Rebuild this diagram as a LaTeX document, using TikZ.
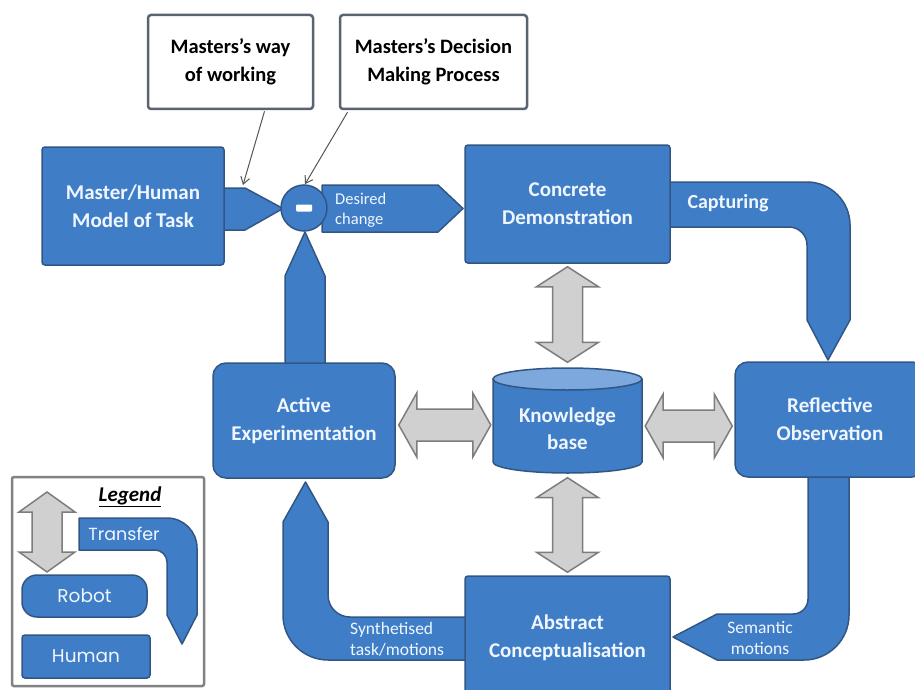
\documentclass[tikz,border=0pt]{standalone}
\usepackage{fontspec}
\setmainfont{Carlito}
\newfontfamily\legfont{Poppins}
\usetikzlibrary{arrows.meta,calc}
\definecolor{bfill}{RGB}{63,126,199}
\definecolor{bdraw}{RGB}{50,86,132}
\definecolor{btext}{RGB}{240,246,255}
\definecolor{kbtop}{RGB}{125,168,222}
\definecolor{gfill}{RGB}{208,208,208}
\definecolor{gdraw}{RGB}{125,125,125}
\definecolor{cdraw}{RGB}{90,100,112}
\definecolor{cline}{RGB}{85,85,85}
\definecolor{legframe}{RGB}{130,130,130}
% vertical grey double arrow: #1 head half width, #2 top tip, #3 bottom tip
\newcommand\grayV[3]{\path[grayarr] let \p1=#2, \p2=#3 in (\x1,\y1) -- (\x1+#1pt,\y1-20pt) -- (\x1+15pt,\y1-20pt) -- (\x1+15pt,\y2+20pt) -- (\x1+#1pt,\y2+20pt) -- (\x1,\y2) -- (\x1-#1pt,\y2+20pt) -- (\x1-15pt,\y2+20pt) -- (\x1-15pt,\y1-20pt) -- (\x1-#1pt,\y1-20pt) -- cycle;}
% horizontal grey double arrow: #1 left tip, #2 right tip
\newcommand\grayH[2]{\path[grayarr] let \p1=#1, \p2=#2 in (\x1,\y1) -- (\x1+18pt,\y1+32pt) -- (\x1+18pt,\y1+16pt) -- (\x2-18pt,\y1+16pt) -- (\x2-18pt,\y1+32pt) -- (\x2,\y1) -- (\x2-18pt,\y1-32pt) -- (\x2-18pt,\y1-16pt) -- (\x1+18pt,\y1-16pt) -- (\x1+18pt,\y1-32pt) -- cycle;}
\begin{document}
\begin{tikzpicture}[x=1pt,y=-1pt,
  human/.style={draw=bdraw, line width=1.5pt, fill=bfill, rounded corners=3pt, text=btext, align=center, inner sep=0pt, font=\bfseries\fontsize{21}{28}\selectfont},
  robot/.style={human, rounded corners=13pt},
  blk/.style={draw=bdraw, line width=1.5pt, fill=bfill, line join=round},
  grayarr/.style={draw=gdraw, line width=1.5pt, fill=gfill, line join=miter},
  calloutbox/.style={draw=cdraw, line width=2.5pt, fill=white, rounded corners=3pt, align=center, inner sep=0pt, text=black, font=\bfseries\fontsize{20.5}{28}\selectfont},
  callline/.style={draw=cline, line width=1pt, -{Straight Barb[length=7pt,width=9pt]}},
  lbl/.style={text=btext, inner sep=0pt}]
\useasboundingbox (0,0) rectangle (915,690);
\clip (0,0) rectangle (915,690);

% ---- blue block arrows (drawn first) ----
\path[blk] (223,188) -- (245,188) -- (283,208.5) -- (245,230) -- (223,230) -- cycle;
\path[blk] (322,185) -- (438,185) -- (463,208.5) -- (438,232) -- (322,232) -- cycle;
\path[blk] (665,182) -- (807,182) .. controls (830.7,182) and (850,201.3) .. (850,225) -- (850,320) -- (828,360) -- (807,320) -- (807,245) .. controls (807,235.1) and (798.9,227) .. (789,227) -- (665,227) -- cycle;
\path[blk] (808,470) -- (808,599) .. controls (808,607.3) and (801.3,614) .. (793,614) -- (717,614) -- (673,637) -- (717,660) -- (804,660) .. controls (828.8,660) and (849,639.8) .. (849,615) -- (849,470) -- cycle;
\path[blk] (470,617) -- (350,617) .. controls (337.8,617) and (328,607.2) .. (328,595) -- (328,522) -- (305.5,482) -- (283,522) -- (283,615) .. controls (283,639.8) and (303.2,660) .. (328,660) -- (470,660) -- cycle;
\path[blk] (285,368) -- (285,276) -- (305,232) -- (325,276) -- (325,368) -- cycle;

% ---- boxes ----
\node[human, minimum width=182, minimum height=118] (master) at (133,206) {Master/Human\\Model of Task};
\node[human, minimum width=205, minimum height=118] (conc) at (567.5,204) {Concrete\\Demonstration};
\node[human, minimum width=205, minimum height=124] (abs) at (567.5,638) {Abstract\\Conceptualisation};
\node[robot, minimum width=182, minimum height=115] (act) at (304,420.5) {Active\\Experimentation};
\node[robot, minimum width=190, minimum height=115] (refl) at (830,419.5) {Reflective\\Observation};

% ---- knowledge base cylinder ----
\path[fill=bfill, draw=bdraw, line width=1.5pt] (493,379) -- (493,462) .. controls (493,468.07) and (526.4,473) .. (567.5,473) .. controls (608.6,473) and (642,468.07) .. (642,462) -- (642,379) -- cycle;
\path[fill=kbtop, draw=bdraw, line width=1.5pt] (567.5,379) ellipse [x radius=74.5, y radius=11];
\node[minimum width=149, minimum height=106, inner sep=0pt] (kb) at (567.5,420.5) {};
\node[lbl, align=center, font=\bfseries\fontsize{21}{27}\selectfont] (kblab) at (567.5,429) {Knowledge\\base};

% ---- grey transfer arrows ----
\grayV{31}{($(conc.south)+(0,3)$)}{($(kb.north)+(0,-5)$)}
\grayV{31}{($(kb.south)+(0,4)$)}{($(abs.north)+(0,-3)$)}
\grayH{($(act.east)+(3,4.5)$)}{($(kb.west)+(-2,4.5)$)}
\grayH{($(kb.east)+(3,5.5)$)}{($(refl.west)+(-2,5.5)$)}

% ---- comparator ----
\node[circle, fill=bfill, draw=bdraw, line width=1.5pt, minimum size=46, inner sep=0pt] (circ) at (304,208) {};
\node[fill=white, minimum width=16, minimum height=7, inner sep=0pt, rounded corners=1pt] (minus) at (circ) {};

% ---- arrow labels ----
\node[lbl, anchor=west, align=left, font=\fontsize{16.5}{20}\selectfont] (desired) at (335,210) {Desired\\change};
\node[lbl, font=\bfseries\fontsize{20}{24}\selectfont] (capt) at (728,203) {Capturing};
\node[lbl, anchor=west, align=left, font=\fontsize{17.5}{21}\selectfont] (synth) at (350,639) {Synthetised\\task/motions};
\node[lbl, align=center, font=\fontsize{17.5}{21}\selectfont] (sem) at (760,638) {Semantic\\motions};

% ---- callouts ----
\node[calloutbox, minimum width=165, minimum height=94] (c1) at (230.5,62) {Masters's way\\of working};
\node[calloutbox, minimum width=187, minimum height=94] (c2) at (433.5,62) {Masters's Decision\\Making Process};
\coordinate (p1) at (243,185);
\draw[callline] ($(c1.south)+(34,1)$) -- (p1);
\draw[callline] ($(c2.south)+(-86,2)$) -- ($(circ.north)+(1,0)$);

% ---- legend ----
\node[draw=legframe, line width=2.5pt, rounded corners=2pt, minimum width=192, minimum height=209, inner sep=0pt] (legend) at (108,581.5) {};
\node[inner sep=0pt, font=\bfseries\itshape\fontsize{21}{24}\selectfont] (legtitle) at (130,497) {\underline{Legend}};
\coordinate (lgt) at (47,492);
\coordinate (lgb) at (47,572);
\grayV{28}{(lgt)}{(lgb)}
\path[blk] (79,518) -- (167,518) .. controls (183.6,518) and (197,531.4) .. (197,548) -- (197,615) -- (182,644) -- (167,615) -- (167,562) .. controls (167,555.4) and (161.6,550) .. (155,550) -- (79,550) -- cycle;
\node[lbl, font=\legfont\fontsize{17.5}{20}\selectfont] (ltransfer) at (124,534) {Transfer};
\node[robot, rounded corners=15pt, minimum width=125, minimum height=42, font=\legfont\fontsize{18.5}{20}\selectfont] (lrobot) at (84.5,596) {Robot};
\node[human, minimum width=128, minimum height=43, font=\legfont\fontsize{18.5}{20}\selectfont] (lhuman) at (86,656.5) {Human};
\end{tikzpicture}
\end{document}
